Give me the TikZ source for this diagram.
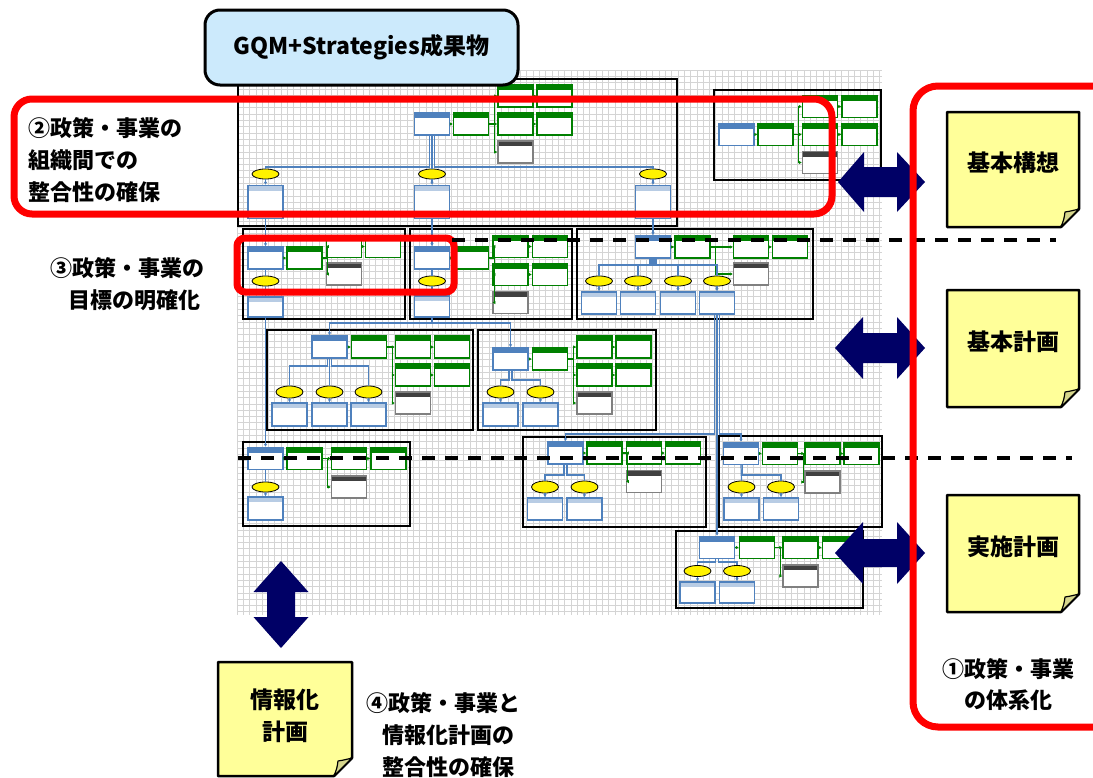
\documentclass[tikz,border=0pt]{standalone}
\usepackage{fontspec}
\newfontfamily\jp{Noto Sans CJK JP}
\usetikzlibrary{shapes.geometric,arrows.meta}
\definecolor{bblue}{RGB}{79,129,189}
\definecolor{lblue}{RGB}{184,204,228}
\definecolor{ggreen}{RGB}{0,128,0}
\definecolor{dgray}{RGB}{64,64,64}
\definecolor{igray}{RGB}{128,128,128}
\definecolor{gridc}{RGB}{212,212,212}
\definecolor{tblue}{RGB}{204,234,252}
\definecolor{notey}{RGB}{255,255,153}
\definecolor{foldc}{RGB}{214,214,140}
\definecolor{navy}{RGB}{0,0,102}
\definecolor{pred}{RGB}{255,0,0}
\newcommand{\notebg}[4]{%
  \draw[line width=2.5pt, fill=notey, line join=round] (#1,#2) -- (#3,#2) -- (#3,#4-18) -- (#3-18,#4) -- (#1,#4) -- cycle;
  \filldraw[fill=foldc, draw=black, line width=1.2pt, line join=round] (#3,#4-18) .. controls (#3-8,#4-16) .. (#3-14,#4-15) .. controls (#3-15,#4-8) .. (#3-18,#4) -- cycle;}
\begin{document}
\begin{tikzpicture}[x=1pt,y=-1pt,
  bx/.style={rectangle, draw, line width=1.3pt, fill=white, minimum width=35pt, minimum height=22pt, inner sep=0pt},
  hd/.style={path picture={\fill[#1] (path picture bounding box.north west) rectangle ([yshift=-5pt]path picture bounding box.north east);}},
  gb/.style={bx, draw=bblue, hd=bblue},
  sb/.style={bx, draw=bblue, hd=lblue},
  qb/.style={bx, draw=ggreen, hd=ggreen},
  ib/.style={bx, draw=igray, hd=dgray},
  ctx/.style={ellipse, draw=black, line width=0.8pt, fill=yellow, minimum width=27pt, minimum height=10pt, inner sep=0pt},
  cont/.style={draw=black, line width=1.5pt},
  gl/.style={draw=ggreen, line width=1.3pt},
  ga/.style={gl, -{Latex[length=3pt,width=3.5pt]}},
  bl/.style={draw=bblue, line width=1.2pt},
  ba/.style={bl, -{Latex[length=3pt,width=3.5pt]}},
  gridln/.style={draw=gridc, line width=0.8pt},
  redbox/.style={draw=pred, line width=7pt},
  dashln/.style={draw=black, line width=4.5pt, dash pattern=on 13pt off 10pt},
  bigtxt/.style={font=\jp\bfseries\fontsize{22}{32}\selectfont, inner sep=0pt},
  notetxt/.style={font=\jp\bfseries\fontsize{23}{32}\selectfont, inner sep=0pt, align=center}
]
\useasboundingbox (0,0) rectangle (1093,777);
\fill[white] (0,0) rectangle (1093,777);
% grid
\foreach \i in {0,...,102} \draw[gridln] ({237+6.3*\i},70) -- ({237+6.3*\i},615);
\foreach \j in {0,...,86} \draw[gridln] (237,{70+6.3*\j}) -- (882,{70+6.3*\j});

% ---------- top container
\draw[cont] (238,79) rectangle (677,226);
\node[gb] (Tg) at (432,124) {};
\node[qb] (Tgq) at (471,124) {};
\node[qb] (Tq1) at (515.5,96) {};
\node[qb] (Tq2) at (515.5,124) {};
\node[qb] (Tm1) at (554.5,96) {};
\node[qb] (Tm2) at (554.5,124) {};
\node[ib] (Ti) at (515.5,152) {};
\node[ctx] (Tc1) at (265.5,174) {};
\node[ctx] (Tc2) at (432,174) {};
\node[ctx] (Tc3) at (653,174) {};
\node[sb,minimum height=33pt] (Ts1) at (265.5,202) {};
\node[sb,minimum height=33pt] (Ts2) at (432,202) {};
\node[sb,minimum height=33pt] (Ts3) at (653,202) {};
\draw[ga] (Tg) -- (Tgq);
\foreach \t in {Tq1,Tq2,Ti} \draw[ga] (Tgq.east) -- ++(5,0) |- (\t.west);
\draw[ga] (Tq1) -- (Tm1);
\draw[ga] (Tq2) -- (Tm2);
\coordinate (Tb) at (0,167);
\draw[bl] ([xshift=-2.5pt]Tg.south) -- ([xshift=-2.5pt]Tg.south |- Tb) -| (Tc1.north);
\draw[bl] (Tg.south) -- (Tc2.north);
\draw[bl] ([xshift=2.5pt]Tg.south) -- ([xshift=2.5pt]Tg.south |- Tb) -| (Tc3.north);
\draw[ba] (Tc1) -- (Ts1);
\draw[ba] (Tc2) -- (Ts2);
\draw[ba] (Tc3) -- (Ts3);

% ---------- top right container
\draw[cont] (714,90) rectangle (881,180);
\node[gb] (Ag) at (736.5,134.5) {};
\node[qb] (Agq) at (775.5,134.5) {};
\node[qb] (Aq1) at (820,106.5) {};
\node[qb] (Aq2) at (820,134.5) {};
\node[qb] (Am1) at (859.5,106.5) {};
\node[qb] (Am2) at (859.5,134.5) {};
\node[ib] (Ai) at (820,162.5) {};
\draw[ga] (Ag) -- (Agq);
\foreach \t in {Aq1,Aq2,Ai} \draw[ga] (Agq.east) -- ++(5,0) |- (\t.west);
\draw[ga] (Aq1) -- (Am1);
\draw[ga] (Aq2) -- (Am2);

% ---------- row 2
\draw[cont] (243,229) rectangle (405,319);
\node[gb] (Bg) at (265.5,258) {};
\node[qb] (Bgq) at (304.5,258) {};
\node[qb] (Bq) at (344,246.5) {};
\node[qb] (Bm) at (383,246.5) {};
\node[ib] (Bi) at (344,274) {};
\node[ctx] (Bc) at (265.5,281) {};
\node[sb,minimum height=20pt] (Bs) at (265.5,307) {};
\draw[ga] (Bg) -- (Bgq);
\foreach \t in {Bq,Bi} \draw[ga] (Bgq.east) -- ++(5,0) |- (\t.west);
\draw[ga] (Bq) -- (Bm);
\draw[bl] (Bg) -- (Bc);
\draw[ba] (Bc) -- (Bs);

\draw[cont] (410,229) rectangle (572,319);
\node[gb] (Cg) at (432,258) {};
\node[qb] (Cgq) at (471,258) {};
\node[qb] (Cq1) at (510.5,246.5) {};
\node[qb] (Cq2) at (510.5,274.5) {};
\node[qb] (Cm1) at (550,246.5) {};
\node[qb] (Cm2) at (550,274.5) {};
\node[ib] (Ci) at (510.5,302.5) {};
\node[ctx] (Cc) at (432,281) {};
\node[sb,minimum height=21pt] (Cs) at (432,306.5) {};
\draw[ga] (Cg) -- (Cgq);
\foreach \t in {Cq1,Cq2,Ci} \draw[ga] (Cgq.east) -- ++(5,0) |- (\t.west);
\draw[ga] (Cq1) -- (Cm1);
\draw[ga] (Cq2) -- (Cm2);
\draw[bl] (Cg) -- (Cc);
\draw[ba] (Cc) -- (Cs);

\draw[cont] (577,229) rectangle (813,319);
\node[gb] (Dg) at (653,247) {};
\node[qb] (Dgq) at (692.5,247) {};
\node[qb] (Dq) at (751,247) {};
\node[qb] (Dm) at (790,247) {};
\node[ib] (Di) at (751,274) {};
\node[ctx] (Dc1) at (599,281) {};
\node[ctx] (Dc2) at (638,281) {};
\node[ctx] (Dc3) at (678,281) {};
\node[ctx] (Dc4) at (717,281) {};
\node[sb] (Ds1) at (599,303) {};
\node[sb] (Ds2) at (638,303) {};
\node[sb] (Ds3) at (678,303) {};
\node[sb] (Ds4) at (717,303) {};
\draw[ga] (Dg) -- (Dgq);
\foreach \t in {Dq,Di} \draw[ga] (Dgq.east) -- ++(5,0) |- (\t.west);
\draw[ga] (Dq) -- (Dm);
\coordinate (Db) at (0,265);
\draw[bl] ([xshift=-3pt]Dg.south) -- ([xshift=-3pt]Dg.south |- Db) -| (Dc1.north);
\draw[bl] ([xshift=-1pt]Dg.south) -- ([xshift=-1pt]Dg.south |- Db) -| (Dc2.north);
\draw[bl] ([xshift=1pt]Dg.south) -- ([xshift=1pt]Dg.south |- Db) -| (Dc3.north);
\draw[bl] ([xshift=3pt]Dg.south) -- ([xshift=3pt]Dg.south |- Db) -| (Dc4.north);
\foreach \i in {1,2,3,4} \draw[ba] (Dc\i) -- (Ds\i);

% links top -> row 2
\draw[ba] (Ts1) -- (Bg);
\draw[ba] (Ts2) -- (Cg);
\draw[ba] (Ts3) -- (Dg);

% ---------- row 3
\draw[cont] (267,330) rectangle (473,430);
\node[gb] (Eg) at (329.5,347) {};
\node[qb] (Egq) at (369,347) {};
\node[qb] (Eq1) at (413,347) {};
\node[qb] (Eq2) at (413,375) {};
\node[qb] (Em1) at (452,347) {};
\node[qb] (Em2) at (452,375) {};
\node[ib] (Ei) at (413,403) {};
\node[ctx,minimum height=12pt] (Ec1) at (289.5,392) {};
\node[ctx,minimum height=12pt] (Ec2) at (329.5,392) {};
\node[ctx,minimum height=12pt] (Ec3) at (368.5,392) {};
\node[sb,minimum height=23pt] (Es1) at (289.5,414.5) {};
\node[sb,minimum height=23pt] (Es2) at (329.5,414.5) {};
\node[sb,minimum height=23pt] (Es3) at (368.5,414.5) {};
\draw[ga] (Eg) -- (Egq);
\foreach \t in {Eq1,Eq2,Ei} \draw[ga] (Egq.east) -- ++(5,0) |- (\t.west);
\draw[ga] (Eq1) -- (Em1);
\draw[ga] (Eq2) -- (Em2);
\coordinate (Eb) at (0,366);
\draw[bl] ([xshift=-2pt]Eg.south) -- ([xshift=-2pt]Eg.south |- Eb) -| (Ec1.north);
\draw[bl] (Eg.south) -- (Ec2.north);
\draw[bl] ([xshift=2pt]Eg.south) -- ([xshift=2pt]Eg.south |- Eb) -| (Ec3.north);
\foreach \i in {1,2,3} \draw[ba] (Ec\i) -- (Es\i);

\draw[cont] (478,330) rectangle (656,430);
\node[gb] (Fg) at (510.5,359) {};
\node[qb] (Fgq) at (550,359) {};
\node[qb] (Fq1) at (594.5,347) {};
\node[qb] (Fq2) at (594.5,375) {};
\node[qb] (Fm1) at (633.5,347) {};
\node[qb] (Fm2) at (633.5,375) {};
\node[ib] (Fi) at (594.5,403) {};
\node[ctx,minimum height=12pt] (Fc1) at (500.5,392) {};
\node[ctx,minimum height=12pt] (Fc2) at (540.5,392) {};
\node[sb,minimum height=23pt] (Fs1) at (500.5,414.5) {};
\node[sb,minimum height=23pt] (Fs2) at (540.5,414.5) {};
\draw[ga] (Fg) -- (Fgq);
\foreach \t in {Fq1,Fq2,Fi} \draw[ga] (Fgq.east) -- ++(5,0) |- (\t.west);
\draw[ga] (Fq1) -- (Fm1);
\draw[ga] (Fq2) -- (Fm2);
\coordinate (Fb) at (0,380);
\draw[bl] ([xshift=-1.5pt]Fg.south) -- ([xshift=-1.5pt]Fg.south |- Fb) -| (Fc1.north);
\draw[bl] ([xshift=1.5pt]Fg.south) -- ([xshift=1.5pt]Fg.south |- Fb) -| (Fc2.north);
\foreach \i in {1,2} \draw[ba] (Fc\i) -- (Fs\i);

\coordinate (Cb) at (0,323);
\draw[ba] (Cs.south) -- (Cs.south |- Cb) -| (Eg.north);
\draw[ba] (Cs.south) -- (Cs.south |- Cb) -| (Fg.north);

% ---------- row 4
\draw[cont] (243,442) rectangle (410,526);
\node[gb] (Gg) at (265.5,458.5) {};
\node[qb] (Ggq) at (304.5,458.5) {};
\node[qb] (Gq) at (349,458.5) {};
\node[qb] (Gm) at (388.5,458.5) {};
\node[ib] (Gi) at (349,487) {};
\node[ctx] (Gc) at (265.5,487) {};
\node[sb,minimum height=23pt] (Gs) at (265.5,508.5) {};
\draw[ga] (Gg) -- (Ggq);
\foreach \t in {Gq,Gi} \draw[ga] (Ggq.east) -- ++(5,0) |- (\t.west);
\draw[ga] (Gq) -- (Gm);
\draw[bl] (Gg) -- (Gc);
\draw[ba] (Gc) -- (Gs);
\draw[ba] (Bs) -- (Gg);

\draw[cont] (523,437) rectangle (706,527);
\node[gb] (Hg) at (565.5,453) {};
\node[qb] (Hgq) at (604.5,453) {};
\node[qb] (Hq) at (644,453) {};
\node[qb] (Hm) at (683,453) {};
\node[ib] (Hi) at (644,481.5) {};
\node[ctx,minimum height=12pt] (Hc1) at (545,487) {};
\node[ctx,minimum height=12pt] (Hc2) at (584.5,487) {};
\node[sb] (Hs1) at (545,509) {};
\node[sb] (Hs2) at (584.5,509) {};
\draw[ga] (Hg) -- (Hgq);
\foreach \t in {Hq,Hi} \draw[ga] (Hgq.east) -- ++(5,0) |- (\t.west);
\draw[ga] (Hq) -- (Hm);
\coordinate (Hb) at (0,475);
\draw[bl] ([xshift=-1.5pt]Hg.south) -- ([xshift=-1.5pt]Hg.south |- Hb) -| (Hc1.north);
\draw[bl] ([xshift=1.5pt]Hg.south) -- ([xshift=1.5pt]Hg.south |- Hb) -| (Hc2.north);
\foreach \i in {1,2} \draw[ba] (Hc\i) -- (Hs\i);

\draw[cont] (719,436) rectangle (882,527);
\node[gb] (Ig) at (741,453.5) {};
\node[qb] (Igq) at (780,453.5) {};
\node[qb] (Iq) at (822.5,453.5) {};
\node[qb] (Im) at (861.5,453.5) {};
\node[ib] (Ii) at (822.5,482) {};
\node[ctx,minimum height=12pt] (Ic1) at (741.5,487) {};
\node[ctx,minimum height=12pt] (Ic2) at (781,487) {};
\node[sb] (Is1) at (741.5,509) {};
\node[sb] (Is2) at (781,509) {};
\draw[ga] (Ig) -- (Igq);
\foreach \t in {Iq,Ii} \draw[ga] (Igq.east) -- ++(5,0) |- (\t.west);
\draw[ga] (Iq) -- (Im);
\coordinate (Ib) at (0,475);
\draw[bl] (Ig.south) -- (Ic1.north);
\draw[bl] ([xshift=1.5pt]Ig.south) -- ([xshift=1.5pt]Ig.south |- Ib) -| (Ic2.north);
\foreach \i in {1,2} \draw[ba] (Ic\i) -- (Is\i);

\draw[cont] (676,531) rectangle (863,608);
\node[gb] (Jg) at (717,547.5) {};
\node[qb] (Jgq) at (757,547.5) {};
\node[qb] (Jq) at (800.5,547.5) {};
\node[qb] (Jm) at (840,547.5) {};
\node[ib] (Ji) at (800.5,576) {};
\node[ctx,minimum height=11pt] (Jc1) at (697.5,571) {};
\node[ctx,minimum height=11pt] (Jc2) at (737,571) {};
\node[sb,minimum height=21pt] (Js1) at (697.5,592.5) {};
\node[sb,minimum height=21pt] (Js2) at (737,592.5) {};
\draw[ga] (Jg) -- (Jgq);
\foreach \t in {Jq,Ji} \draw[ga] (Jgq.east) -- ++(5,0) |- (\t.west);
\draw[ga] (Jq) -- (Jm);
\coordinate (Jb) at (0,562);
\draw[bl] ([xshift=-1.5pt]Jg.south) -- ([xshift=-1.5pt]Jg.south |- Jb) -| (Jc1.north);
\draw[bl] ([xshift=1.5pt]Jg.south) -- ([xshift=1.5pt]Jg.south |- Jb) -| (Jc2.north);
\foreach \i in {1,2} \draw[ba] (Jc\i) -- (Js\i);

% S9 -> row 4 goals
\coordinate (Sb) at (0,434);
\draw[ba] ([xshift=-2.5pt]Ds4.south) -- ([xshift=-2.5pt]Ds4.south |- Sb) -| (Hg.north);
\draw[ba] (Ds4) -- (Jg);
\draw[ba] ([xshift=2.5pt]Ds4.south) -- ([xshift=2.5pt]Ds4.south |- Sb) -| (Ig.north);

% ---------- title
\node[draw=black, line width=3pt, fill=tblue, rounded corners=15pt, minimum width=313pt, minimum height=75pt, inner sep=0pt,
      font=\jp\bfseries\fontsize{23}{23}\selectfont] (title) at (361.5,47.5) {GQM+Strategies成果物};

% ---------- red boxes 2 and 3
\draw[redbox, rounded corners=18pt] (14,99) rectangle (832,214);
\draw[redbox, rounded corners=8pt] (237,238) rectangle (454,292);

% ---------- dashed level lines
\coordinate (d1a) at (452,240); \coordinate (d1b) at (1056,240);
\coordinate (d2a) at (238,458); \coordinate (d2b) at (1072,458);
\draw[dashln] (d1a) -- (d1b);
\draw[dashln] (d2a) -- (d2b);

% ---------- block arrows
\fill[navy] (838,182) -- (864,152) -- (864,167) -- (897,167) -- (897,152) -- (925,182) -- (897,212) -- (897,197) -- (864,197) -- (864,212) -- cycle;
\fill[navy] (835,348) -- (863,317) -- (863,333) -- (897,333) -- (897,317) -- (925,348) -- (897,379) -- (897,363) -- (863,363) -- (863,379) -- cycle;
\fill[navy] (835,553) -- (863,522) -- (863,539) -- (897,539) -- (897,522) -- (925,553) -- (897,584) -- (897,567) -- (863,567) -- (863,584) -- cycle;
\fill[navy] (281,561) -- (308.5,592) -- (295,592) -- (295,617) -- (308.5,617) -- (281,648) -- (253.5,617) -- (267,617) -- (267,592) -- (253.5,592) -- cycle;

% ---------- red box 1
\draw[redbox, rounded corners=25pt] (913,86) rectangle (1125,727);

% ---------- sticky notes
\notebg{947}{112}{1079}{227}
\notebg{947}{290}{1079}{407}
\notebg{947}{495}{1079}{612}
\notebg{218}{662}{352}{776}
\node[notetxt] (n1) at (1013,163) {基本構想};
\node[notetxt] (n2) at (1013,342) {基本計画};
\node[notetxt] (n3) at (1013,547) {実施計画};
\node[notetxt] (n4) at (285,716) {情報化\\計画};

% ---------- labels
\node[bigtxt, anchor=west, align=left] (l2) at (28,160) {②政策・事業の\\組織間での\\整合性の確保};
\node[bigtxt, anchor=west, align=left] (l3) at (50,284) {③政策・事業の\\\hspace*{18pt}目標の明確化};
\node[bigtxt, align=center, font=\jp\bfseries\fontsize{22}{31}\selectfont] (l1) at (1008,685) {①政策・事業\\の体系化};
\node[bigtxt, anchor=west, align=left] (l4) at (366,735) {④政策・事業と\\\hspace*{16pt}情報化計画の\\\hspace*{16pt}整合性の確保};
\end{tikzpicture}
\end{document}
